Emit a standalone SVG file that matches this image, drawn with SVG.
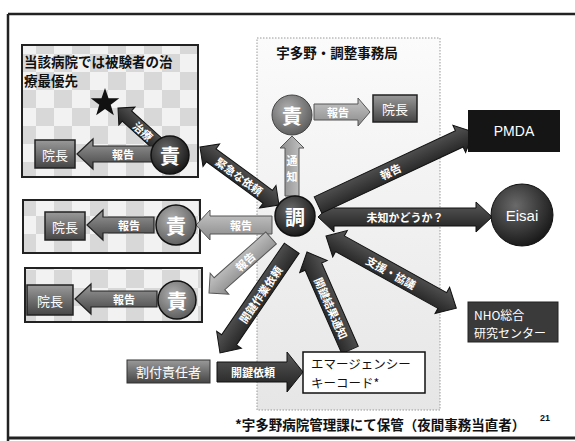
<svg xmlns="http://www.w3.org/2000/svg" width="575" height="441" viewBox="0 0 575 441">
<style>
.jp{font-family:'Noto Sans CJK JP','Noto Sans CJK SC',sans-serif;}
.lab{font-family:'Noto Sans CJK JP',sans-serif;font-size:11px;font-weight:bold;fill:#fff;text-anchor:middle;dominant-baseline:central;}
.box{stroke:#222;stroke-width:1.5;}
.circ{font-family:'Noto Sans CJK JP',sans-serif;font-size:20px;font-weight:bold;fill:#fff;text-anchor:middle;dominant-baseline:central;}
.dark{fill:url(#gDark);stroke:#111;stroke-width:1;}
.light{fill:url(#gLight);stroke:#555;stroke-width:1;}
.mid{fill:url(#gMid);stroke:#222;stroke-width:1.2;}
.inch{font-family:'Noto Sans CJK JP',sans-serif;font-size:13px;fill:#fff;text-anchor:middle;dominant-baseline:central;}
</style>
<defs>
<pattern id="chk" patternUnits="userSpaceOnUse" width="36" height="36">
<rect width="36" height="36" fill="#f2f2f2"/>
<rect width="18" height="18" fill="#d8d8d8"/>
<rect x="18" y="18" width="18" height="18" fill="#d8d8d8"/>
</pattern>
<linearGradient id="gDark" x1="0" y1="0" x2="0" y2="1"><stop offset="0" stop-color="#5a5a5a"/><stop offset="1" stop-color="#1e1e1e"/></linearGradient>
<linearGradient id="gLight" x1="0" y1="0" x2="0" y2="1"><stop offset="0" stop-color="#c8c8c8"/><stop offset="1" stop-color="#8a8a8a"/></linearGradient>
<linearGradient id="gMid" x1="0" y1="0" x2="0" y2="1"><stop offset="0" stop-color="#9a9a9a"/><stop offset="1" stop-color="#454545"/></linearGradient>
<linearGradient id="gPanel" x1="0" y1="0" x2="0" y2="1"><stop offset="0" stop-color="#fbfbfb"/><stop offset="1" stop-color="#e6e6e6"/></linearGradient>
<radialGradient id="rDark" cx="0.4" cy="0.35" r="0.7"><stop offset="0" stop-color="#6a6a6a"/><stop offset="1" stop-color="#151515"/></radialGradient>
<radialGradient id="rGray" cx="0.4" cy="0.35" r="0.7"><stop offset="0" stop-color="#b0b0b0"/><stop offset="1" stop-color="#5a5a5a"/></radialGradient>
</defs>
<rect width="575" height="441" fill="#fff"/>
<!-- frame -->
<g id="frame" stroke="#222" fill="none">
<line x1="8" y1="14" x2="575" y2="14" stroke-width="2.5"/>
<line x1="8" y1="14" x2="8" y2="441" stroke-width="2.5"/>
<line x1="8" y1="438" x2="575" y2="438" stroke-width="3"/>
</g>
<!-- panel -->
<g id="panel">
<rect x="257" y="38" width="183" height="372" fill="url(#gPanel)" stroke="#999" stroke-width="1" stroke-dasharray="1.5,1.5"/>
<text x="337" y="52" class="jp" font-size="13.5" font-weight="bold" text-anchor="middle" dominant-baseline="central" fill="#111">宇多野・調整事務局</text>
</g>
<!-- left boxes -->
<g id="siteA">
<rect x="22" y="45" width="176" height="132" fill="url(#chk)" stroke="#222" stroke-width="2"/>
<text x="24" y="61" class="jp" font-size="13.5" font-weight="bold" dominant-baseline="central" fill="#111">当該病院では被験者の治</text>
<text x="24" y="80" class="jp" font-size="13.5" font-weight="bold" dominant-baseline="central" fill="#111">療最優先</text>
<polygon points="105,88 108.53,98.15 119.27,98.36 110.71,104.85 113.82,115.14 105,109 96.18,115.14 99.29,104.85 90.73,98.36 101.47,98.15" fill="#111"/>
<rect x="35" y="140" width="40" height="28" class="box" fill="url(#gMid)"/>
<text x="55" y="154" class="inch">院長</text>
</g>
<g id="siteB">
<rect x="23" y="200" width="177" height="53" fill="url(#chk)" stroke="#222" stroke-width="2"/>
<rect x="45" y="212" width="40" height="28" class="box" fill="url(#gMid)"/>
<text x="65" y="226" class="inch">院長</text>
</g>
<g id="siteC">
<rect x="25" y="268" width="177" height="54" fill="url(#chk)" stroke="#222" stroke-width="2"/>
<rect x="27" y="285" width="46" height="30" class="box" fill="url(#gMid)"/>
<text x="50" y="300" class="inch">院長</text>
</g>
<!-- connectors -->
<g id="connectors">
<g transform="translate(118,108) rotate(42.1)"><path class="dark" d="M0,0 L12,-12 L12,-7 L56.6,-7 L56.6,7 L12,7 L12,12 Z"/><text x="34" y="0" class="lab">治療</text></g>
<g transform="translate(77,154)"><path class="mid" d="M0,0 L16,-15 L16,-8 L76,-8 L76,8 L16,8 L16,15 Z"/><text x="46" y="0" class="lab">報告</text></g>
<g transform="translate(87,225)"><path class="mid" d="M0,0 L16,-15 L16,-8 L67,-8 L67,8 L16,8 L16,15 Z"/><text x="42" y="0" class="lab">報告</text></g>
<g transform="translate(75,299)"><path class="mid" d="M0,0 L16,-15 L16,-8 L82,-8 L82,8 L16,8 L16,15 Z"/><text x="49" y="0" class="lab">報告</text></g>
<g transform="translate(200,147) rotate(36.3)"><path class="dark" d="M0,0 L14,-14 L14,-8 L84,-8 L84,-14 L98,0 L84,14 L84,8 L14,8 L14,14 Z"/><text x="49" y="0" class="lab">緊急な依頼</text></g>
<g transform="translate(196,225)"><path class="light" d="M0,0 L14,-15 L14,-9 L76,-9 L76,9 L14,9 L14,15 Z"/><text x="45" y="0" class="lab">報告</text></g>
<g transform="translate(209,293) rotate(-41.6)"><path class="light" d="M0,0 L14,-14 L14,-8 L83,-8 L83,8 L14,8 L14,14 Z"/><text x="48" y="0" class="lab">報告</text></g>
<g transform="translate(220,353) rotate(-55.6)"><path class="dark" d="M0,0 L16,-15 L16,-9 L127,-9 L127,9 L16,9 L16,15 Z"/><text x="71" y="0" class="lab">開鍵作業依頼</text></g>
<g transform="translate(307,252) rotate(66.3)"><path class="dark" d="M0,0 L16,-15 L16,-9 L107,-9 L107,9 L16,9 L16,15 Z"/><text x="61" y="0" class="lab">開鍵結果通知</text></g>
<g transform="translate(326,236) rotate(29)"><path class="dark" d="M0,0 L16,-15 L16,-9 L133,-9 L133,-15 L149,0 L133,15 L133,9 L16,9 L16,15 Z"/><text x="74.5" y="0" class="lab">支援・協議</text></g>
<g transform="translate(318,217)"><path class="dark" d="M0,0 L16,-15 L16,-9 L158,-9 L158,-15 L174,0 L158,15 L158,9 L16,9 L16,15 Z"/><text x="87" y="0" class="lab">未知かどうか？</text></g>
<g transform="translate(318,205) rotate(-25.1)"><path class="dark" d="M0,-9 L156,-9 L156,-15 L172,0 L156,15 L156,9 L0,9 Z"/><text x="80" y="0" class="lab">報告</text></g>
<g transform="translate(292,136) rotate(90)"><path class="light" d="M0,0 L12,-12 L12,-7 L60,-7 L60,7 L12,7 L12,12 Z"/></g>
<text x="292" y="160" class="lab">通</text>
<text x="292" y="176" class="lab">知</text>
<g transform="translate(314,112)"><path class="light" d="M0,-8 L44,-8 L44,-14 L56,0 L44,14 L44,8 L0,8 Z"/><text x="24" y="0" class="lab">報告</text></g>
<g transform="translate(217,372)"><path class="dark" d="M0,-10 L70,-10 L70,-20 L86,0 L70,20 L70,10 L0,10 Z"/><text x="36" y="0" class="lab" font-size="12">開鍵依頼</text></g>
</g>
<!-- circle nodes -->
<g id="sekiA"><circle cx="170" cy="155" r="19" fill="url(#rDark)" stroke="#111" stroke-width="1.5"/><text x="170" y="155" class="circ">責</text></g>
<g id="sekiB"><circle cx="176" cy="225" r="20" fill="url(#rGray)" stroke="#111" stroke-width="1.5"/><text x="176" y="225" class="circ">責</text></g>
<g id="sekiC"><circle cx="177" cy="300" r="19" fill="url(#rGray)" stroke="#111" stroke-width="1.5"/><text x="177" y="300" class="circ">責</text></g>
<g id="sekiTop"><circle cx="292" cy="115" r="20" fill="url(#rGray)" stroke="#444" stroke-width="1"/><text x="292" y="115" class="circ">責</text></g>
<g id="cho"><circle cx="295" cy="216" r="20" fill="url(#rDark)" stroke="#111" stroke-width="1.5"/><text x="295" y="216" class="circ">調</text></g>
<g id="inchoTop"><rect x="373" y="95" width="44" height="27" class="box" fill="url(#gMid)"/><text x="395" y="108.5" class="inch">院長</text></g>
<!-- right nodes -->
<g id="pmda"><rect x="468" y="110" width="92" height="42" fill="#151515"/><text x="514" y="131" font-family="'Liberation Sans',sans-serif" font-size="14" fill="#fff" text-anchor="middle" dominant-baseline="central">PMDA</text></g>
<g id="eisai"><circle cx="522" cy="215" r="31" fill="url(#rDark)" stroke="#111" stroke-width="1"/><text x="522" y="215" font-family="'Liberation Sans',sans-serif" font-size="15" fill="#fff" text-anchor="middle" dominant-baseline="central">Eisai</text></g>
<g id="nho"><rect x="468" y="302" width="90" height="40" fill="#3a3a3a" stroke="#222" stroke-width="1"/><text x="474" y="314" class="jp" font-size="12" fill="#fff" dominant-baseline="central">NHO総合</text><text x="474" y="332" class="jp" font-size="12" fill="#fff" dominant-baseline="central">研究センター</text></g>
<!-- bottom nodes -->
<g id="wariate"><rect x="127" y="360" width="83" height="23" fill="url(#gMid)" stroke="#333" stroke-width="1"/><text x="168.5" y="371.5" class="inch">割付責任者</text></g>
<g id="ekey"><rect x="303" y="352" width="122" height="41" fill="#fff" stroke="#111" stroke-width="1.5"/><text x="311" y="363" class="jp" font-size="12.5" fill="#111" dominant-baseline="central">エマージェンシー</text><text x="311" y="382" class="jp" font-size="12.5" fill="#111" dominant-baseline="central">キーコード*</text></g>
<!-- footnote -->
<text x="235" y="424" class="jp" font-size="13.5" font-weight="bold" fill="#111" dominant-baseline="central">*宇多野病院管理課にて保管（夜間事務当直者）</text>
<text x="545" y="418" font-family="'Liberation Sans',sans-serif" font-size="9" font-weight="bold" fill="#111" text-anchor="middle" dominant-baseline="central">21</text>
</svg>
